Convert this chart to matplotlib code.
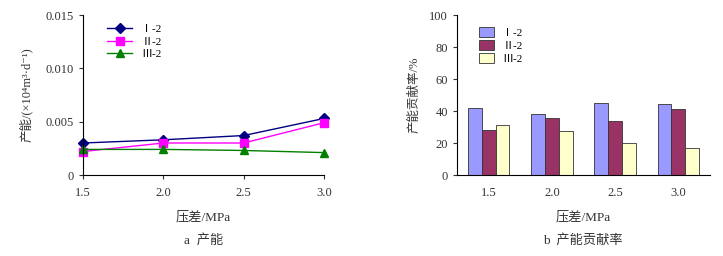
import numpy as np
import matplotlib.pyplot as plt

plt.rcParams['font.family'] = ['Liberation Serif', 'Noto Sans CJK SC', 'DejaVu Sans']

# pressure difference categories
pressure = [1.5, 2.0, 2.5, 3.0]
pressure_labels = ['1.5', '2.0', '2.5', '3.0']
series_names = ['Ⅰ-2', 'Ⅱ-2', 'Ⅲ-2']

# productivity (left)
prod_1 = [0.0030, 0.0033, 0.0037, 0.0053]
prod_2 = [0.0022, 0.0030, 0.0030, 0.0049]
prod_3 = [0.0024, 0.0024, 0.0023, 0.0021]

# contribution rate % (right)
rate_1 = [42.0, 38.1, 44.7, 44.1]
rate_2 = [28.2, 35.6, 33.8, 41.0]
rate_3 = [31.3, 27.3, 20.3, 16.6]

W, H = 723, 256
fig = plt.figure(figsize=(W / 100, H / 100), dpi=100)

def px_axes(x0, y0, x1, y1):
    return fig.add_axes([x0 / W, 1 - y1 / H, (x1 - x0) / W, (y1 - y0) / H])

tick_font = 9
grey = '#333333'

# ---- left: line chart
ax1 = px_axes(83, 15, 324, 175)
line_colors = ['#000080', '#FF00FF', '#008000']
markers = ['D', 's', '^']
msizes = [5, 6, 6]
for vals, c, m, ms, name in zip([prod_1, prod_2, prod_3], line_colors, markers, msizes, series_names):
    ax1.plot(pressure, vals, color=c, marker=m, markersize=ms, linewidth=1, label=name, clip_on=False)
ax1.set_xlim(1.5, 3.0)
ax1.set_ylim(0, 0.015)
ax1.set_xticks(pressure)
ax1.set_xticklabels(pressure_labels)
ax1.set_yticks([0, 0.005, 0.010, 0.015])
ax1.set_yticklabels(['0', '0.005', '0.010', '0.015'])
for s in ['top', 'right']:
    ax1.spines[s].set_visible(False)
ax1.tick_params(labelsize=tick_font, length=3, colors=grey, labelcolor=grey)
ax1.tick_params(axis='x', pad=6)
ax1.set_ylabel('产能/(×10⁴m³·d⁻¹)', fontsize=9, color=grey, labelpad=9)
ax1.set_xlabel('压差/MPa', fontsize=9.5, color=grey, labelpad=8)
ax1.legend(loc='upper left', bbox_to_anchor=(0.08, 0.97), frameon=False, fontsize=8,
           handlelength=2.3, labelspacing=0.25, borderaxespad=0)
fig.text(204 / W, 1 - 240 / H, 'a  产能', ha='center', va='center', fontsize=9.5, color=grey)

# ---- right: grouped bars
ax2 = px_axes(457, 15, 710, 175)
x = np.arange(len(pressure))
bw = 0.22
bar_colors = ['#9999FF', '#993366', '#FFFFCC']
for i, (vals, c, name) in enumerate(zip([rate_1, rate_2, rate_3], bar_colors, series_names)):
    ax2.bar(x + (i - 1) * bw, vals, width=bw, color=c, edgecolor=grey, linewidth=0.6, label=name)
ax2.set_xlim(-0.5, 3.5)
ax2.set_ylim(0, 100)
ax2.set_xticks(x)
ax2.set_xticklabels(pressure_labels)
ax2.set_yticks([0, 20, 40, 60, 80, 100])
for s in ['top', 'right']:
    ax2.spines[s].set_visible(False)
ax2.tick_params(labelsize=tick_font, length=3, colors=grey, labelcolor=grey)
ax2.tick_params(axis='x', length=0, pad=9)
ax2.set_ylabel('产能贡献率/%', fontsize=9, color=grey, labelpad=6)
ax2.set_xlabel('压差/MPa', fontsize=9.5, color=grey, labelpad=8)
ax2.legend(loc='upper left', bbox_to_anchor=(0.07, 0.95), frameon=False, fontsize=8,
           handlelength=1.3, handleheight=1.0, labelspacing=0.2, borderaxespad=0)
fig.text(583 / W, 1 - 240 / H, 'b  产能贡献率', ha='center', va='center', fontsize=9.5, color=grey)

fig.savefig('out.png', dpi=100)
